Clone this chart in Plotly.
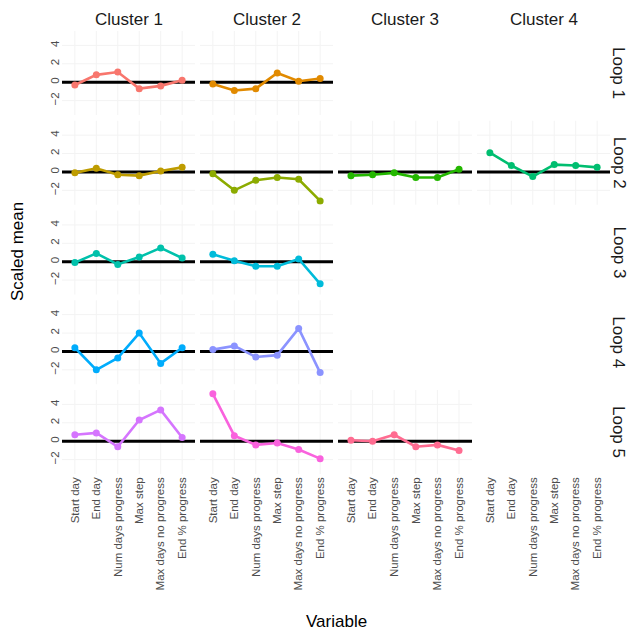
import plotly.graph_objects as go

# Categories and facet labels
variables = ["Start day", "End day", "Num days progress", "Max step",
             "Max days no progress", "End % progress"]
clusters = ["Cluster 1", "Cluster 2", "Cluster 3", "Cluster 4"]
loops = ["Loop 1", "Loop 2", "Loop 3", "Loop 4", "Loop 5"]
y_ticks = [-2, 0, 2, 4]

# Scaled means per (loop, cluster)
loop1_cluster1 = [-0.3, 0.8, 1.1, -0.7, -0.4, 0.2]
loop1_cluster2 = [-0.2, -0.9, -0.7, 1.0, 0.1, 0.4]
loop2_cluster1 = [-0.1, 0.4, -0.3, -0.4, 0.1, 0.5]
loop2_cluster2 = [-0.2, -2.0, -0.9, -0.6, -0.8, -3.15]
loop2_cluster3 = [-0.4, -0.3, -0.1, -0.6, -0.6, 0.3]
loop2_cluster4 = [2.1, 0.7, -0.5, 0.8, 0.7, 0.5]
loop3_cluster1 = [-0.1, 0.9, -0.3, 0.5, 1.5, 0.4]
loop3_cluster2 = [0.8, 0.1, -0.5, -0.5, 0.3, -2.4]
loop4_cluster1 = [0.4, -2.0, -0.7, 2.0, -1.3, 0.4]
loop4_cluster2 = [0.2, 0.6, -0.6, -0.4, 2.5, -2.3]
loop5_cluster1 = [0.7, 0.9, -0.6, 2.3, 3.4, 0.4]
loop5_cluster2 = [5.15, 0.6, -0.4, -0.2, -0.9, -1.9]
loop5_cluster3 = [0.1, 0.0, 0.7, -0.6, -0.4, -1.0]

palette = ["#F8766D", "#E18A00", "#BE9C00", "#8CAB00", "#24B700", "#00BE70",
           "#00C1AB", "#00BBDA", "#00ACFC", "#8B93FF", "#D575FE", "#F962DD",
           "#FF6C91"]

series = [
    (1, 1, loop1_cluster1), (1, 2, loop1_cluster2),
    (2, 1, loop2_cluster1), (2, 2, loop2_cluster2),
    (2, 3, loop2_cluster3), (2, 4, loop2_cluster4),
    (3, 1, loop3_cluster1), (3, 2, loop3_cluster2),
    (4, 1, loop4_cluster1), (4, 2, loop4_cluster2),
    (5, 1, loop5_cluster1), (5, 2, loop5_cluster2), (5, 3, loop5_cluster3),
]

W, H = 629, 631
FONT = "Liberation Sans, Arial, sans-serif"
GRID = "#f3f3f3"
col_px = [(62, 195), (200, 333), (338, 472), (477, 610)]
row_top0, row_h, row_step = 31, 84, 89.75

all_vals = [v for _, _, vals in series for v in vals]
lo, hi = min(all_vals), max(all_vals)
pad = 0.05 * (hi - lo)
yrange = [lo - pad, hi + pad]

has_data = {(r, c) for r, c, _ in series}


def ids(r, c):
    n = (r - 1) * 4 + c
    s = "" if n == 1 else str(n)
    return "x" + s, "y" + s, "xaxis" + s, "yaxis" + s


fig = go.Figure()
layout_axes = {}
shapes = []
for r in range(1, 6):
    for c in range(1, 5):
        xr, yr, xa, ya = ids(r, c)
        x0, x1 = col_px[c - 1]
        top = row_top0 + (r - 1) * row_step
        bot = top + row_h
        here = (r, c) in has_data
        layout_axes[xa] = dict(
            domain=[x0 / W, x1 / W], anchor=yr, type="category",
            categoryorder="array", categoryarray=variables,
            range=[-0.6, len(variables) - 0.4],
            showgrid=False, zeroline=False, showline=False, ticks="",
            showticklabels=(r == 5), tickangle=-90,
            tickfont=dict(family=FONT, size=11.5, color="#4d4d4d"),
            fixedrange=True,
        )
        layout_axes[ya] = dict(
            domain=[1 - bot / H, 1 - top / H], anchor=xr,
            range=yrange, tickmode="array", tickvals=y_ticks,
            showgrid=False, zeroline=False, showline=False, ticks="",
            showticklabels=(c == 1), tickangle=-90,
            tickfont=dict(family=FONT, size=11.5, color="#4d4d4d"),
            fixedrange=True,
        )
        if here:
            # faint panel grid, then the zero reference line on top of it
            for v in variables:
                shapes.append(dict(
                    type="line", xref=xr, yref=yr + " domain",
                    x0=v, x1=v, y0=0, y1=1, layer="below",
                    line=dict(color=GRID, width=1),
                ))
            for t in y_ticks:
                shapes.append(dict(
                    type="line", xref=xr + " domain", yref=yr,
                    x0=0, x1=1, y0=t, y1=t, layer="below",
                    line=dict(color=GRID, width=1),
                ))
            shapes.append(dict(
                type="line", xref=xr + " domain", yref=yr,
                x0=0, x1=1, y0=0, y1=0, layer="below",
                line=dict(color="black", width=3),
            ))
        elif r == 5:
            # keeps the category ticks on the empty bottom panel
            fig.add_trace(go.Scatter(
                x=variables, y=[None] * len(variables), mode="lines",
                xaxis=xr, yaxis=yr, showlegend=False, hoverinfo="skip",
            ))

for i, (r, c, vals) in enumerate(series):
    xr, yr, _, _ = ids(r, c)
    col = palette[i]
    fig.add_trace(go.Scatter(
        x=variables, y=vals, mode="lines+markers",
        line=dict(color=col, width=2.6),
        marker=dict(color=col, size=7),
        xaxis=xr, yaxis=yr, showlegend=False,
        name=f"{loops[r - 1]}, {clusters[c - 1]}",
    ))

annotations = []
for c, name in enumerate(clusters):
    x0, x1 = col_px[c]
    annotations.append(dict(
        text=name, x=(x0 + x1) / 2 / W, y=1 - 20 / H,
        xref="paper", yref="paper", xanchor="center", yanchor="middle",
        showarrow=False, font=dict(family=FONT, size=17, color="#1a1a1a"),
    ))
for r, name in enumerate(loops):
    top = row_top0 + r * row_step
    annotations.append(dict(
        text=name, x=619 / W, y=1 - (top + row_h / 2) / H,
        xref="paper", yref="paper", xanchor="center", yanchor="middle",
        textangle=90, showarrow=False,
        font=dict(family=FONT, size=17, color="#1a1a1a"),
    ))
annotations.append(dict(
    text="Scaled mean", x=18 / W, y=1 - 252 / H, xref="paper", yref="paper",
    xanchor="center", yanchor="middle", textangle=-90, showarrow=False,
    font=dict(family=FONT, size=17, color="black"),
))
annotations.append(dict(
    text="Variable", x=336 / W, y=1 - 621 / H, xref="paper", yref="paper",
    xanchor="center", yanchor="middle", showarrow=False,
    font=dict(family=FONT, size=17, color="black"),
))

fig.update_layout(
    width=W, height=H, margin=dict(l=0, r=0, t=0, b=0),
    paper_bgcolor="white", plot_bgcolor="white",
    showlegend=False, shapes=shapes, annotations=annotations,
    font=dict(family=FONT),
    **layout_axes,
)

fig.write_html("out.html")
